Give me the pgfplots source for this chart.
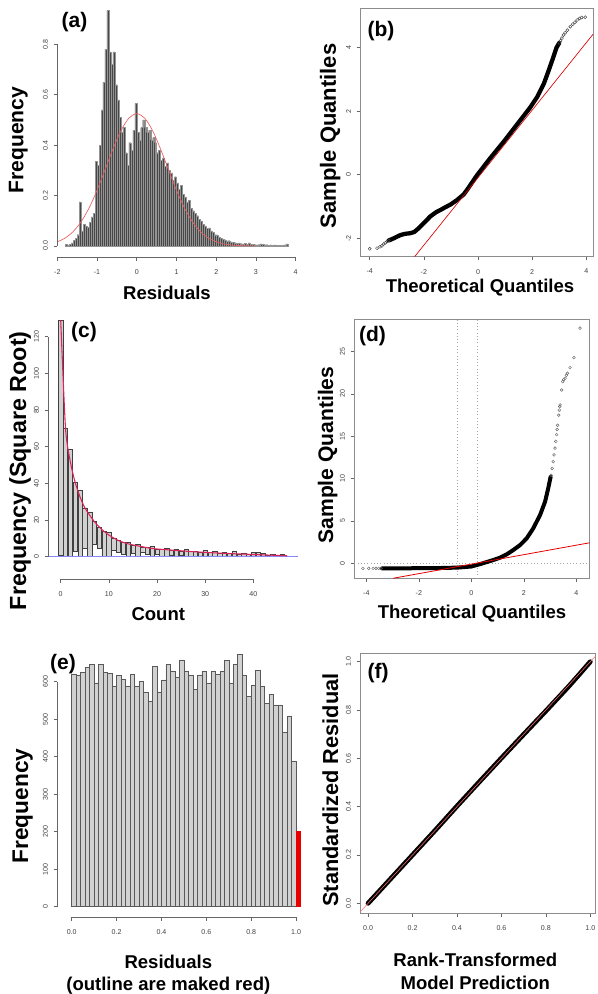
\documentclass[border=0pt]{standalone}
\usepackage{fontspec}
\setmainfont{Liberation Sans}
\usepackage{pgfplots}
\pgfplotsset{compat=1.18}
\definecolor{rcurve}{RGB}{232,95,95}
\definecolor{rroot}{RGB}{222,35,90}
\definecolor{rblue}{RGB}{135,135,245}
\definecolor{rred}{RGB}{232,0,0}
\begin{document}
\begin{tikzpicture}[x=0.75pt,y=0.75pt]
\pgfplotsset{
  rbase/.style={scale only axis, anchor=south west, tick align=outside, major tick length=2.8pt,
    tick style={black!60, line width=0.45pt},
    ticklabel style={font=\fontsize{5.3}{6}\selectfont, text=black!75},
    /pgf/number format/assume math mode=true,
    yticklabel style={xshift=-0.6pt, rotate=90, anchor=south},
    xticklabel style={yshift=-3pt},
    minor tick num=0},
  ropen/.style={rbase, axis x line*=bottom, axis y line*=left, axis line style={draw=none}, clip=false},
  rbox/.style={rbase, tick pos=left, axis line style={black!45, line width=0.5pt}},
  dec1x/.style={xticklabel style={/pgf/number format/.cd, fixed, fixed zerofill, precision=1}},
  dec1y/.style={yticklabel style={/pgf/number format/.cd, fixed, fixed zerofill, precision=1}},
}
\tikzset{
  xlab/.style={font=\bfseries\fontsize{13.9}{15}\selectfont, inner sep=0pt},
  ylab/.style={font=\bfseries\fontsize{16.5}{18}\selectfont, inner sep=0pt, rotate=90},
  plab/.style={font=\bfseries\fontsize{15.75}{17}\selectfont, inner sep=0pt},
  raxis/.style={black!60, line width=0.45pt},
}

% ---------------- (a) ----------------
\begin{axis}[ropen, dec1y, at={(42.975pt,552.75pt)}, width=178.8pt, height=187.8pt,
  xmin=-2, xmax=4, ymin=-0.0437, ymax=0.95,
  xtick={-2,-1,0,1,2,3,4}, ytick={0,0.2,0.4,0.6,0.8}]
\addplot[ybar interval, fill=black!72, draw=black!42, line width=0.2pt] coordinates {
(-1.80,0.006) (-1.75,0.004) (-1.70,0.007) (-1.65,0.012) (-1.60,0.022) (-1.55,0.030) (-1.50,0.045) (-1.45,0.175)
(-1.40,0.060) (-1.35,0.085) (-1.30,0.080) (-1.25,0.075) (-1.20,0.095) (-1.15,0.115) (-1.10,0.130) (-1.05,0.335)
(-1.00,0.320) (-0.95,0.400) (-0.90,0.540) (-0.85,0.650) (-0.80,0.780) (-0.75,0.935) (-0.70,0.770) (-0.65,0.720)
(-0.60,0.770) (-0.55,0.640) (-0.50,0.580) (-0.45,0.510) (-0.40,0.450) (-0.35,0.470) (-0.30,0.370) (-0.25,0.320)
(-0.20,0.410) (-0.15,0.380) (-0.10,0.460) (-0.05,0.565) (0.00,0.450) (0.05,0.420) (0.10,0.470) (0.15,0.500)
(0.20,0.470) (0.25,0.450) (0.30,0.460) (0.35,0.420) (0.40,0.430) (0.45,0.410) (0.50,0.370) (0.55,0.380)
(0.60,0.340) (0.65,0.350) (0.70,0.315) (0.75,0.330) (0.80,0.300) (0.85,0.290) (0.90,0.260) (0.95,0.275)
(1.00,0.250) (1.05,0.225) (1.10,0.240) (1.15,0.205) (1.20,0.195) (1.25,0.175) (1.30,0.180) (1.35,0.150)
(1.40,0.140) (1.45,0.130) (1.50,0.120) (1.55,0.105) (1.60,0.100) (1.65,0.085) (1.70,0.080) (1.75,0.070)
(1.80,0.072) (1.85,0.060) (1.90,0.055) (1.95,0.045) (2.00,0.044) (2.05,0.036) (2.10,0.030) (2.15,0.027)
(2.20,0.024) (2.25,0.020) (2.30,0.021) (2.35,0.016) (2.40,0.014) (2.45,0.013) (2.50,0.010) (2.55,0.012)
(2.60,0.009) (2.65,0.008) (2.70,0.010) (2.75,0.007) (2.80,0.012) (2.85,0.006) (2.90,0.007) (2.95,0.005)
(3.00,0.004) (3.05,0.005) (3.10,0.008) (3.15,0.006) (3.20,0.004) (3.25,0.005) (3.30,0.003) (3.35,0.004)
(3.40,0.003) (3.45,0.004) (3.50,0.003) (3.55,0.002) (3.60,0.003) (3.65,0.002) (3.70,0.004) (3.75,0.008)
(3.80,0.008)};
\addplot[rcurve, line width=0.5pt, smooth] coordinates {
(-2.0,0.0165) (-1.8,0.0318) (-1.6,0.0572) (-1.4,0.0962) (-1.2,0.1509) (-1.0,0.2209) (-0.8,0.3017)
(-0.6,0.3844) (-0.4,0.4571) (-0.2,0.5071) (0,0.525) (0.2,0.5071) (0.4,0.4571) (0.6,0.3844) (0.8,0.3017)
(1.0,0.2209) (1.2,0.1509) (1.4,0.0962) (1.6,0.0572) (1.8,0.0318) (2.0,0.0165) (2.2,0.0080) (2.4,0.0036)
(2.6,0.0015) (2.8,0.0006) (3.0,0.0002)};
\draw[raxis] (axis cs:-2,0) -- (axis cs:-2,0.8);
\draw[raxis] (axis cs:-2,-0.0437) -- (axis cs:4,-0.0437);
\end{axis}

% ---------------- (b) ----------------
\begin{axis}[rbox, at={(270.225pt,552.975pt)}, width=174.5pt, height=186.3pt,
  xmin=-4.347, xmax=4.247, ymin=-2.579, ymax=5.24,
  xtick={-4,-2,0,2,4}, ytick={-2,0,2,4}]
\addplot[black, line width=3.2pt, line cap=round, line join=round] coordinates {
(-3.3,-2.07) (-3.11,-2.0) (-2.87,-1.9) (-2.7,-1.86) (-2.5,-1.84) (-2.35,-1.8) (-2.2,-1.69) (-2.0,-1.52)
(-1.76,-1.31) (-1.55,-1.18) (-1.39,-1.11) (-1.2,-1.02) (-1.02,-0.94) (-0.78,-0.8) (-0.53,-0.62) (-0.4,-0.47)
(-0.28,-0.32) (-0.04,-0.02) (0.45,0.52) (0.95,1.04) (1.44,1.58) (1.93,2.12) (2.18,2.44) (2.43,2.86)
(2.61,3.28) (2.79,3.72) (2.9,4.0) (3.0,4.15)};
\addplot[only marks, mark=o, mark size=1.15pt, black!75, line width=0.35pt] coordinates {
(-4.0,-2.33) (-3.73,-2.31) (-3.62,-2.27) (-3.55,-2.24) (-3.48,-2.18) (-3.42,-2.14) (-3.36,-2.1) (-3.3,-2.07)
(3.0,4.15) (3.05,4.22) (3.1,4.3) (3.16,4.4) (3.22,4.47) (3.3,4.55) (3.41,4.66) (3.5,4.74) (3.58,4.8)
(3.66,4.87) (3.75,4.92) (3.83,4.95) (3.96,4.96)};
\addplot[red!85!black, line width=0.5pt] coordinates {(-2.34,-2.579) (4.247,4.42)};
\end{axis}

% ---------------- (c) bars ----------------
\begin{axis}[scale only axis, anchor=south west, at={(36.225pt,311.025pt)}, width=187.3pt, height=195.7pt,
  xmin=-2.575, xmax=49.28, ymin=-12.33, ymax=130, hide axis, ybar stacked, bar width=0.9]
\addplot[draw=none, fill=none] coordinates {
(0,0.9) (1,0.5) (2,-6.7) (3,3.1) (4,-3.6) (5,4.6) (6,-1.8) (7,6.8) (8,4.6) (9,0) (10,-1.4) (11,3.6)
(12,2.4) (13,1.3) (14,-0.9) (15,1.8) (16,-0.9) (17,2.4) (18,1.3) (19,-1.4) (20,1.3) (21,0.5) (22,-0.9)
(23,0.8) (24,-0.5) (25,0.6) (26,-0.9) (27,0.4) (28,-0.3) (29,0.5) (30,-1.0) (31,0.3) (32,-0.9) (33,0.2)
(34,-0.4) (35,0.3) (36,-1.6) (37,0.2) (38,-0.7) (39,0.1) (40,-1.0) (41,-1.2) (42,-0.8) (43,0.1) (44,-0.5)
(45,0.2) (46,-0.7)};
\addplot[fill=black!18, draw=black!75, line width=0.35pt] coordinates {
(0,128.1) (1,69.5) (2,58.5) (3,37.4) (4,36.3) (5,22.1) (6,24.5) (7,12.3) (8,11.6) (9,13.8) (10,13.2)
(11,6.6) (12,6.4) (13,6.5) (14,7.9) (15,4.6) (16,6.8) (17,3.0) (18,3.6) (19,5.9) (20,2.9) (21,3.5)
(22,4.7) (23,2.8) (24,3.9) (25,2.6) (26,3.9) (27,2.4) (28,2.95) (29,2.0) (30,3.35) (31,1.9) (32,3.0)
(33,1.75) (34,2.25) (35,1.4) (36,3.2) (37,1.3) (38,2.1) (39,1.2) (40,2.2) (41,2.3) (42,1.8) (43,0.8)
(44,1.3) (45,0.5) (46,1.3)};
\end{axis}
% ---------------- (c) axes ----------------
\begin{axis}[ropen, at={(36.225pt,311.025pt)}, width=187.3pt, height=195.7pt,
  xmin=-2.575, xmax=49.28, ymin=-12.33, ymax=130,
  xtick={0,10,20,30,40}, ytick={0,20,40,60,80,100,120}]
\addplot[rblue, line width=0.6pt] coordinates {(-2.575,0) (49.28,0)};
\addplot[rroot, line width=0.8pt, smooth, tension=0.4] coordinates {
(0,129) (1,70) (2,51.8) (3,40.5) (4,32.7) (5,26.7) (6,22.7) (7,19.1) (8,16.2) (9,13.8) (10,11.8)
(11,10.2) (12,8.8) (13,7.8) (14,7.0) (15,6.4) (16,5.9) (17,5.4) (18,4.9) (19,4.5) (20,4.2) (21,4.0)
(22,3.8) (23,3.6) (24,3.4) (25,3.2) (26,3.0) (27,2.8) (28,2.65) (29,2.5) (30,2.35) (31,2.2) (32,2.1)
(33,1.95) (34,1.85) (35,1.7) (36,1.6) (37,1.5) (38,1.4) (39,1.3) (40,1.2) (41,1.1) (42,1.0) (43,0.9)
(44,0.8) (45,0.7) (46,0.6) (47,0.5)};
\draw[raxis] (axis cs:-2.575,0) -- (axis cs:-2.575,120);
\draw[raxis] (axis cs:0,-12.33) -- (axis cs:40,-12.33);
\end{axis}

% ---------------- (d) ----------------
\begin{axis}[rbox, at={(265.725pt,311.775pt)}, width=176.55pt, height=194.5pt,
  xmin=-4.457, xmax=4.51, ymin=-1.77, ymax=28.86,
  xtick={-4,-2,0,2,4}, ytick={0,5,10,15,20,25}]
\addplot[black!35, dotted, line width=0.45pt] coordinates {(-0.545,-1.77) (-0.545,28.86)};
\addplot[black!35, dotted, line width=0.45pt] coordinates {(0.217,-1.77) (0.217,28.86)};
\addplot[black!35, dotted, line width=0.45pt] coordinates {(-4.457,0) (4.51,0)};
\addplot[black, line width=3.0pt, line cap=round, line join=round] coordinates {
(-3.4,-0.6) (-2,-0.58) (-1,-0.55) (-0.5,-0.5) (0,-0.38) (0.33,-0.1) (0.59,0.15) (0.84,0.39) (1.09,0.66)
(1.35,1.06) (1.6,1.57) (1.86,2.16) (2.11,2.95) (2.36,4.13) (2.62,5.71) (2.81,7.28) (2.93,8.86) (3.02,10.2)};
\addplot[only marks, mark=o, mark size=1.05pt, black!60, line width=0.35pt] coordinates {
(-4.13,-0.6) (-3.91,-0.6) (-3.74,-0.6) (-3.63,-0.6) (-3.53,-0.6) (-3.44,-0.6)
(3.04,10.4) (3.08,11.2) (3.12,12.0) (3.15,12.8) (3.19,13.6) (3.22,14.4) (3.25,15.2) (3.27,15.8)
(3.29,16.3) (3.33,17.5) (3.35,18.1) (3.37,18.5) (3.38,18.7) (3.44,20.47) (3.48,21.46) (3.52,21.7)
(3.57,21.86) (3.62,22.2) (3.66,22.45) (3.76,23.1) (3.91,24.3) (4.14,27.77)};
\addplot[red!90!black, line width=0.6pt] coordinates {(-2.98,-1.77) (4.51,2.426)};
\end{axis}

% ---------------- (e) ----------------
\begin{axis}[ropen, dec1x, at={(42.975pt,57.525pt)}, width=185.8pt, height=200.5pt,
  xmin=-0.0642, xmax=1.04, ymin=-28.27, ymax=684.5,
  xtick={0,0.2,0.4,0.6,0.8,1}, ytick={0,100,200,300,400,500,600}]
\addplot[ybar interval, fill=black!18, draw=black!65, line width=0.35pt] coordinates {
(0.00,620.5) (0.02,616) (0.04,625) (0.06,638) (0.08,647) (0.10,597) (0.12,646) (0.14,625) (0.16,622) (0.18,589)
(0.20,616) (0.22,607) (0.24,589) (0.26,620) (0.28,589) (0.30,600) (0.32,573) (0.34,547) (0.36,640) (0.38,573)
(0.40,604.5) (0.42,646) (0.44,628.5) (0.46,613) (0.48,658) (0.50,628.5) (0.52,618) (0.54,580) (0.56,618) (0.58,627)
(0.60,597) (0.62,627) (0.64,620) (0.66,628) (0.68,656) (0.70,596) (0.72,646) (0.74,673) (0.76,618) (0.78,560)
(0.80,591) (0.82,631) (0.84,587) (0.86,542) (0.88,566) (0.90,538) (0.92,538) (0.94,464) (0.96,508.5) (0.98,388.5)
(1.00,388.5)};
\addplot[ybar interval, fill=rred, draw=rred, line width=0.35pt] coordinates {(1.00,200) (1.02,200)};
\draw[raxis] (axis cs:-0.0642,0) -- (axis cs:-0.0642,600);
\draw[raxis] (axis cs:0,-28.27) -- (axis cs:1,-28.27);
\end{axis}

% ---------------- (f) ----------------
\begin{axis}[rbox, dec1x, dec1y, at={(270.225pt,60.525pt)}, width=176.4pt, height=195pt,
  xmin=-0.035, xmax=1.0234, ymin=-0.0414, ymax=1.0348,
  xtick={0,0.2,0.4,0.6,0.8,1}, ytick={0,0.2,0.4,0.6,0.8,1}]
\addplot[black, line width=3.6pt, line cap=round, line join=round] coordinates {
(0,0) (0.1,0.1) (0.2,0.2) (0.3,0.3) (0.4,0.402) (0.5,0.502) (0.6,0.601) (0.7,0.699) (0.8,0.796)
(0.9,0.895) (0.95,0.947) (1,1)};
\addplot[red!55, line width=0.4pt] coordinates {(-0.035,-0.035) (1.0234,1.0234)};
\end{axis}

% ---------------- labels ----------------
\node[plab] at (74.5,971.5) {(a)};
\node[ylab, font=\bfseries\fontsize{15.8}{17}\selectfont] at (18.3,854) {Frequency};
\node[xlab] at (167,701.3) {Residuals};
\node[plab] at (381,963) {(b)};
\node[ylab] at (330.3,858) {Sample Quantiles};
\node[xlab] at (480,706.7) {Theoretical Quantiles};
\node[plab] at (84,661.5) {(c)};
\node[ylab, font=\bfseries\fontsize{17.5}{19}\selectfont] at (20,523.3) {Frequency (Square Root)};
\node[xlab] at (158.3,380) {Count};
\node[plab] at (372.5,658) {(d)};
\node[ylab, font=\bfseries\fontsize{15.8}{17}\selectfont] at (327.7,539) {Sample Quantiles};
\node[xlab] at (472,380) {Theoretical Quantiles};
\node[plab] at (63,330) {(e)};
\node[ylab, font=\bfseries\fontsize{17}{18}\selectfont] at (22.7,188) {Frequency};
\node[xlab] at (168.3,32.3) {Residuals};
\node[xlab] at (168.3,8.3) {(outline are maked red)};
\node[plab] at (378,321) {(f)};
\node[ylab, font=\bfseries\fontsize{16.3}{18}\selectfont] at (330.3,204) {Standardized Residual};
\node[xlab] at (475.3,34) {Rank-Transformed};
\node[xlab] at (475.3,10.7) {Model Prediction};

\pgfresetboundingbox
\useasboundingbox (0,0) rectangle (597,994);
\end{tikzpicture}
\end{document}
